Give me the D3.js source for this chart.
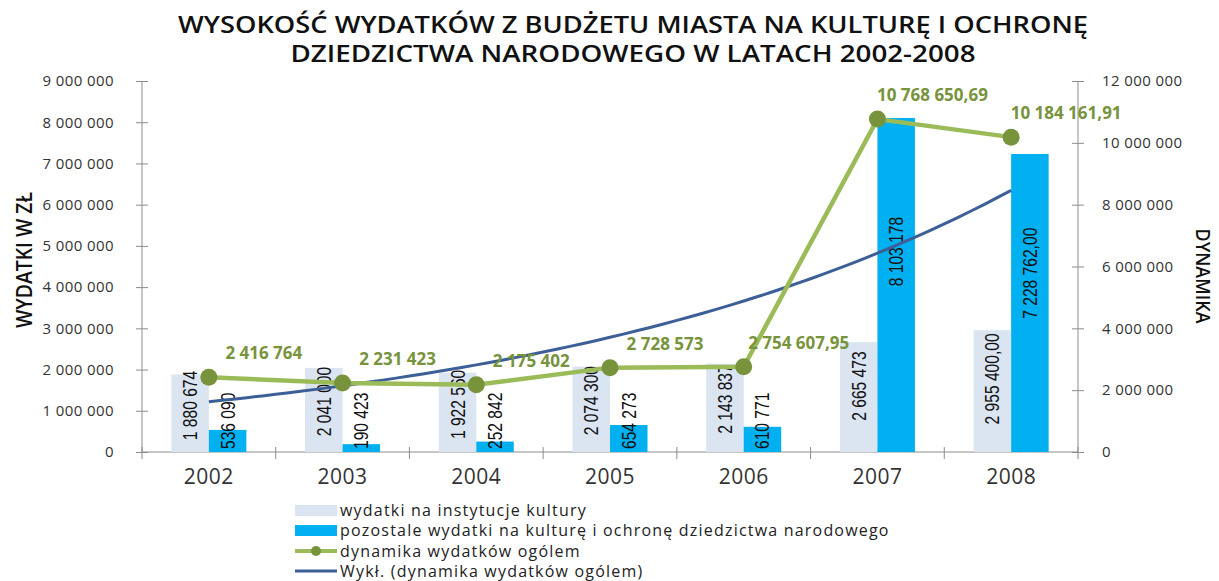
<meta charset="utf-8">
<script src="https://cdn.jsdelivr.net/npm/d3@7"></script>
<style>
  body { margin: 0; background: #fff; }
  text { font-family: "Open Sans", sans-serif; }
  .axis path, .axis line { stroke: #8c8c8c; }
  .tick text { fill: #333; font-size: 15px; letter-spacing: 0.4px; }
  .barlabel { font-family: "Liberation Sans", sans-serif; font-size: 20px; fill: #111; }
  .dynlabel { font-size: 17px; font-weight: bold; fill: #77933c; }
  .legend text { font-size: 16px; letter-spacing: 1.2px; fill: #222; }
</style>
<body>
<script>
var years = ["2002", "2003", "2004", "2005", "2006", "2007", "2008"];
var instytucje = [1880674, 2041000, 1922560, 2074300, 2143837, 2665473, 2955400];
var instytucjeDec = [0, 0, 0, 0, 0, 0, 2];
var pozostale = [536090, 190423, 252842, 654273, 610771, 8103178, 7228762];
var pozostaleDec = [0, 0, 0, 0, 0, 0, 2];
var dynamika = [2416764, 2231423, 2175402, 2728573, 2754607.95, 10768650.69, 10184161.91];
var dynamikaDec = [0, 0, 0, 0, 2, 2, 2];
var leftTicks = [0, 1e6, 2e6, 3e6, 4e6, 5e6, 6e6, 7e6, 8e6, 9e6];
var rightTicks = [0, 2e6, 4e6, 6e6, 8e6, 10e6, 12e6];
var legendLabels = ["wydatki na instytucje kultury",
  "pozostale wydatki na kulturę i ochronę dziedzictwa narodowego",
  "dynamika wydatków ogólem",
  "Wykł. (dynamika wydatków ogólem)"];

var pl = d3.formatLocale({decimal: ",", thousands: " ", grouping: [3], currency: ["", ""]});
function fmt(v, d) { return pl.format(d ? ",." + d + "f" : ",.0f")(v).replace(/\u2212/g, "-"); }

var W = 1219, H = 581;
var m = {left: 142, right: 1078, top: 81, bottom: 452};

var svg = d3.select("body").append("svg").attr("width", W).attr("height", H);

var x = d3.scaleBand().domain(years).range([m.left, m.right]).paddingInner(0).paddingOuter(0);
var y = d3.scaleLinear().domain([0, 9e6]).range([m.bottom, m.top]);
var y2 = d3.scaleLinear().domain([0, 12e6]).range([m.bottom, m.top]);
var bw = 37.5;

// title
svg.append("text").attr("x", 633).attr("y", 33).attr("text-anchor", "middle")
  .attr("font-size", 23).attr("font-weight", 600).attr("fill", "#111")
  .attr("textLength", 910).attr("lengthAdjust", "spacingAndGlyphs")
  .text("WYSOKOŚĆ WYDATKÓW Z BUDŻETU MIASTA NA KULTURĘ I OCHRONĘ");
svg.append("text").attr("x", 633).attr("y", 62).attr("text-anchor", "middle")
  .attr("font-size", 23).attr("font-weight", 600).attr("fill", "#111")
  .attr("textLength", 685).attr("lengthAdjust", "spacingAndGlyphs")
  .text("DZIEDZICTWA NARODOWEGO W LATACH 2002-2008");

// axes
var yAxis = svg.append("g").attr("class", "axis").attr("transform", "translate(" + m.left + ",0)")
  .call(d3.axisLeft(y).tickValues(leftTicks).tickSize(6).tickPadding(22).tickFormat(function(d){ return fmt(d); }));
yAxis.selectAll(".tick line").attr("x2", -6).attr("x1", 6);
yAxis.select(".domain").attr("d", "M0," + m.top + "V" + m.bottom);

var y2Axis = svg.append("g").attr("class", "axis").attr("transform", "translate(" + m.right + ",0)")
  .call(d3.axisRight(y2).tickValues(rightTicks).tickSize(6).tickPadding(18).tickFormat(function(d){ return fmt(d); }));
y2Axis.selectAll(".tick line").attr("x1", -6).attr("x2", 6);
y2Axis.select(".domain").attr("d", "M0," + m.top + "V" + m.bottom);

var xAxis = svg.append("g").attr("class", "axis").attr("transform", "translate(0," + m.bottom + ")")
  .call(d3.axisBottom(x).tickSize(0).tickPadding(17));
xAxis.select(".domain").attr("d", "M" + m.left + ",0H" + m.right);
xAxis.selectAll(".tick text").style("font-size", "21px").style("letter-spacing", "0.5px").attr("fill", "#222");
xAxis.selectAll(".sep").data(years.concat(["end"])).enter().append("line")
  .attr("x1", function(d, i){ return m.left + i * x.bandwidth(); })
  .attr("x2", function(d, i){ return m.left + i * x.bandwidth(); })
  .attr("y1", -5).attr("y2", 7).attr("stroke", "#8c8c8c");

// axis titles
svg.append("text").attr("transform", "translate(32,260) rotate(-90)").attr("text-anchor", "middle")
  .attr("font-size", 21).attr("font-weight", 600).attr("fill", "#111")
  .attr("textLength", 136).attr("lengthAdjust", "spacingAndGlyphs").text("WYDATKI W ZŁ");
svg.append("text").attr("transform", "translate(1196,276) rotate(90)").attr("text-anchor", "middle")
  .attr("font-size", 20).attr("font-weight", 600).attr("fill", "#111")
  .attr("textLength", 95).attr("lengthAdjust", "spacingAndGlyphs").text("DYNAMIKA");

// bars
var sx = 0.78;
function drawBars(vals, decs, color, off) {
  var g = svg.append("g");
  g.selectAll("rect").data(vals).enter().append("rect")
    .attr("x", function(d, i){ return x(years[i]) + x.bandwidth() / 2 + off; })
    .attr("y", function(d){ return y(d); })
    .attr("width", bw)
    .attr("height", function(d){ return y(0) - y(d); })
    .attr("fill", color);
  g.selectAll("text").data(vals).enter().append("text")
    .attr("class", "barlabel")
    .attr("text-anchor", "middle")
    .attr("dy", "0.35em")
    .text(function(d, i){ return fmt(d, decs[i]); })
    .attr("transform", function(d, i){
      var len = this.getComputedTextLength() * sx;
      var cy = Math.min(y(d * 0.6), y(0) - 3 - len / 2);
      var cx = x(years[i]) + x.bandwidth() / 2 + off + bw / 2;
      return "translate(" + cx + "," + cy + ") rotate(-90) scale(" + sx + ",1)";
    });
}
drawBars(instytucje, instytucjeDec, "#dbe5f1", -bw);
drawBars(pozostale, pozostaleDec, "#00b0f0", 0);

// exponential trend (least squares on ln values, like a spreadsheet trendline)
var n = dynamika.length;
var xs = d3.range(1, n + 1);
var ls = dynamika.map(Math.log);
var mx = d3.mean(xs), ml = d3.mean(ls);
var b = d3.sum(xs, function(v, i){ return (v - mx) * (ls[i] - ml); }) / d3.sum(xs, function(v){ return (v - mx) * (v - mx); });
var a = ml - b * mx;
var cx0 = x(years[0]) + x.bandwidth() / 2;
var trend = d3.range(0, 60.001).map(function(k){
  var t = 1 + (n - 1) * k / 60;
  return [cx0 + (t - 1) * x.bandwidth(), y2(Math.exp(a + b * t))];
});
svg.append("path").attr("d", d3.line()(trend))
  .attr("fill", "none").attr("stroke", "#3c5f98").attr("stroke-width", 3);

// dynamika line
var pts = dynamika.map(function(d, i){ return [x(years[i]) + x.bandwidth() / 2, y2(d)]; });
svg.append("path").attr("d", d3.line()(pts))
  .attr("fill", "none").attr("stroke", "#9bbb59").attr("stroke-width", 4.5);
svg.append("g").selectAll("circle").data(pts).enter().append("circle")
  .attr("cx", function(p){ return p[0]; }).attr("cy", function(p){ return p[1]; })
  .attr("r", 8.5).attr("fill", "#77933c");
svg.append("g").selectAll("text").data(dynamika).enter().append("text")
  .attr("class", "dynlabel").attr("text-anchor", "middle")
  .attr("x", function(d, i){ return pts[i][0] + 55; })
  .attr("y", function(d, i){ return pts[i][1] - 18; })
  .text(function(d, i){ return fmt(d, dynamikaDec[i]); });

// legend
var lg = svg.append("g").attr("class", "legend").attr("transform", "translate(295,0)");
var ly = [510, 530, 551, 571];
lg.append("rect").attr("x", 0).attr("y", ly[0] - 5).attr("width", 42).attr("height", 11).attr("fill", "#dbe5f1");
lg.append("rect").attr("x", 0).attr("y", ly[1] - 5).attr("width", 42).attr("height", 11).attr("fill", "#00b0f0");
lg.append("line").attr("x1", 0).attr("x2", 42).attr("y1", ly[2]).attr("y2", ly[2]).attr("stroke", "#9bbb59").attr("stroke-width", 4);
lg.append("circle").attr("cx", 21).attr("cy", ly[2]).attr("r", 5).attr("fill", "#77933c");
lg.append("line").attr("x1", 0).attr("x2", 42).attr("y1", ly[3]).attr("y2", ly[3]).attr("stroke", "#3c5f98").attr("stroke-width", 3);
lg.selectAll("text").data(legendLabels).enter().append("text")
  .attr("x", 45).attr("y", function(d, i){ return ly[i]; }).attr("dy", "0.35em")
  .text(function(d){ return d; });
</script>
</body>
